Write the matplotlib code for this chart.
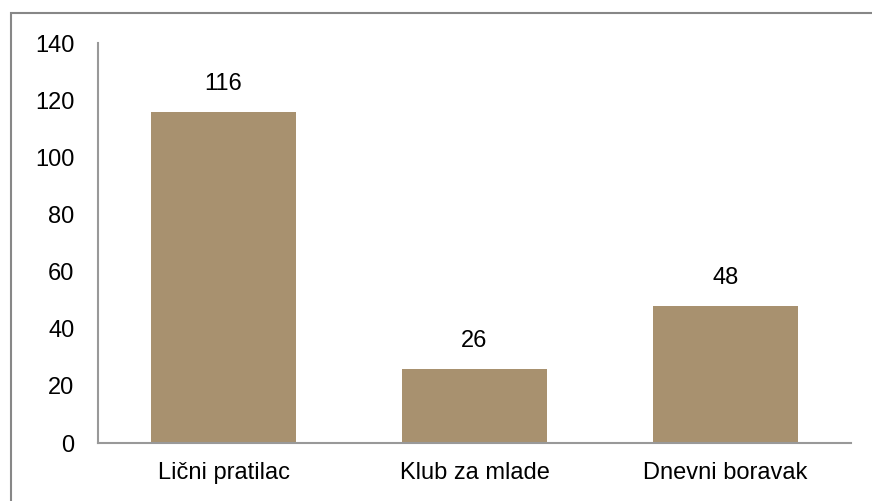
import matplotlib
matplotlib.use("Agg")
import matplotlib.pyplot as plt
from matplotlib.patches import Rectangle

categories = ["Lični pratilac", "Klub za mlade", "Dnevni boravak"]
values = [116, 26, 48]
yticks = [0, 20, 40, 60, 80, 100, 120, 140]

W, H = 872, 501
plt.rcParams["font.family"] = ["Liberation Sans", "DejaVu Sans"]

fig = plt.figure(figsize=(W / 100, H / 100), dpi=100)
# outer chart border (right/bottom edges fall outside the image)
fig.patches.append(Rectangle((11 / W, -0.2), 1, 1.2 - 13 / H, transform=fig.transFigure,
                             fill=False, edgecolor="#878787", linewidth=1.5))

ax = fig.add_axes([98 / W, 1 - 443 / H, (851 - 98) / W, (443 - 43) / H])
x = range(len(categories))
bars = ax.bar(x, values, width=0.575, color="#A8916F")
for b, v in zip(bars, values):
    ax.text(b.get_x() + b.get_width() / 2, v + 5.8, str(v), ha="center", va="bottom",
            fontsize=17)

ax.set_xlim(-0.5, len(categories) - 0.5)
ax.set_ylim(0, 140)
ax.set_yticks(yticks)
ax.set_xticks(list(x))
ax.set_xticklabels(categories)
ax.tick_params(length=0, labelsize=17)
ax.tick_params(axis="y", pad=17)
ax.tick_params(axis="x", pad=14)
for s in ["top", "right"]:
    ax.spines[s].set_visible(False)
for s in ["left", "bottom"]:
    ax.spines[s].set_color("#999999")
    ax.spines[s].set_linewidth(1.5)

fig.savefig("out.png", dpi=100)
